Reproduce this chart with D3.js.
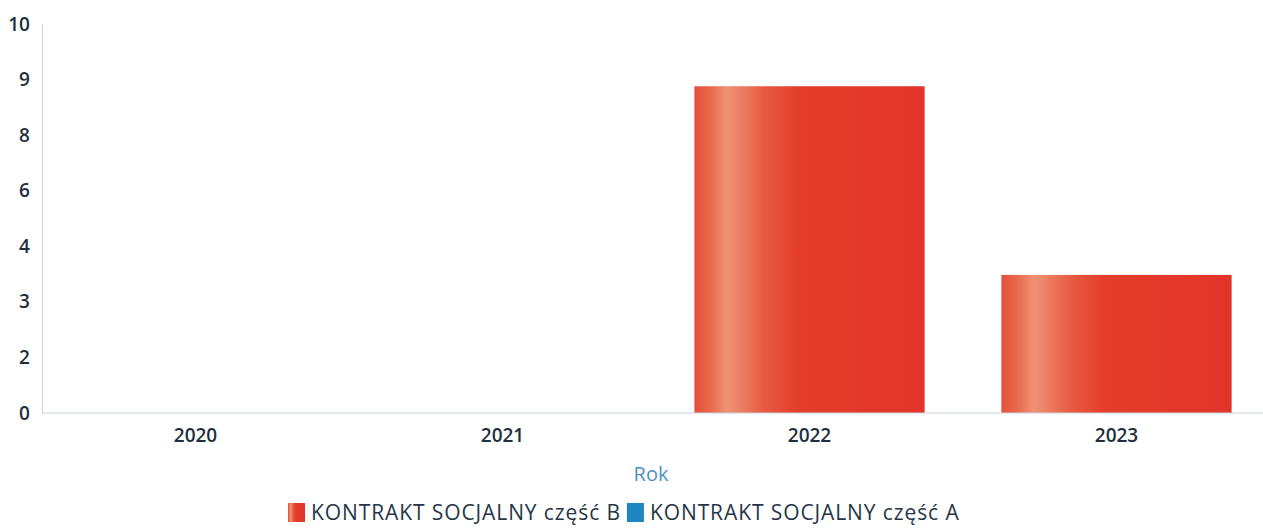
<!DOCTYPE html>
<html>
<head>
<meta charset="utf-8">
<script src="https://cdn.jsdelivr.net/npm/d3@7"></script>
<style>
  body { margin: 0; background: #fff; }
  text { font-family: "Open Sans", "Noto Sans", sans-serif; }
</style>
</head>
<body>
<div id="chart"></div>
<script>
// years on the x axis
const years = ["2020", "2021", "2022", "2023"];
// KONTRAKT SOCJALNY część B values
const partB = [0, 0, 8.4, 3.55];
// część A has no visible bars
const partA = [0, 0, 0, 0];
// tick labels as printed (evenly spaced on the axis)
const tickLabels = ["0", "2", "3", "4", "6", "8", "9", "10"];
const seriesNames = ["KONTRAKT SOCJALNY część B", "KONTRAKT SOCJALNY część A"];

const width = 1263, height = 532,
    margin = ({top: 24, right: -7, bottom: 119, left: 42});

const svg = d3.select("#chart").append("svg")
    .attr("width", width).attr("height", height);

// gradient for the red bars
const defs = svg.append("defs");
const grad = defs.append("linearGradient").attr("id", "redGrad")
    .attr("x1", "0%").attr("x2", "100%").attr("y1", "0%").attr("y2", "0%");
[["0%", "#e4503a"], ["7%", "#e9694e"], ["14%", "#ef9274"], ["19%", "#ec8366"], ["30%", "#e75b42"],
 ["45%", "#e43d2b"], ["100%", "#e2352a"]].forEach(s =>
    grad.append("stop").attr("offset", s[0]).attr("stop-color", s[1]));

const x = d3.scaleBand()
    .domain(years)
    .range([margin.left, width - margin.right])
    .paddingInner(0.25)
    .paddingOuter(0.125);

const y = d3.scaleLinear()
    .domain([0, 10])
    .range([height - margin.bottom, margin.top]);

// tick labels sit at even steps of the axis
const tickPos = tickLabels.map((t, i) => i * 10 / (tickLabels.length - 1));

// y axis
const yAxis = g => g
    .attr("transform", `translate(${margin.left},0)`)
    .call(d3.axisLeft(y).tickValues(tickPos).tickFormat((d, i) => tickLabels[i]).tickSize(0).tickPadding(14))
    .call(g => g.select(".domain").attr("stroke", "#c9d3da"))
    .call(g => g.selectAll("text").attr("fill", "#1f2f3d").attr("font-size", 19).attr("font-weight", 600).attr("text-anchor", "end").attr("dx", "0.1em"));

// x axis
const xAxis = g => g
    .attr("transform", `translate(0,${y(0)})`)
    .call(d3.axisBottom(x).tickSize(0).tickPadding(16))
    .call(g => g.select(".domain").attr("stroke", "#c9d3da").attr("d", `M${margin.left},0H${width}`))
    .call(g => g.selectAll("text").attr("fill", "#1f2f3d").attr("font-size", 19).attr("font-weight", 600));

svg.append("g").call(yAxis);

// bars
svg.selectAll(".barB")
    .data(years.map((yr, i) => ({year: yr, v: partB[i]})).filter(d => d.v > 0))
    .join("rect")
    .attr("class", "barB")
    .attr("x", d => x(d.year))
    .attr("width", x.bandwidth())
    .attr("y", d => y(d.v))
    .attr("height", d => y(0) - y(d.v))
    .attr("fill", "url(#redGrad)");

svg.append("g").call(xAxis);

// axis title
svg.append("text")
    .attr("x", 651).attr("y", 481)
    .attr("text-anchor", "middle")
    .attr("font-size", 20)
    .attr("fill", "#4d92c2")
    .text("Rok");

// legend
const legendColors = ["url(#redGrad)", "#1f86c4"];
const legend = svg.append("g").attr("transform", "translate(288,503)");
let lx = 0;
seriesNames.forEach((name, i) => {
    const g = legend.append("g").attr("transform", `translate(${lx},0)`);
    g.append("rect").attr("width", 17).attr("height", 19).attr("fill", legendColors[i]);
    const t = g.append("text").attr("x", 23).attr("y", 17)
        .attr("font-size", 21).attr("letter-spacing", "0.9px").attr("fill", "#263646").text(name);
    lx += 23 + t.node().getComputedTextLength() + 6;
});
</script>
</body>
</html>
